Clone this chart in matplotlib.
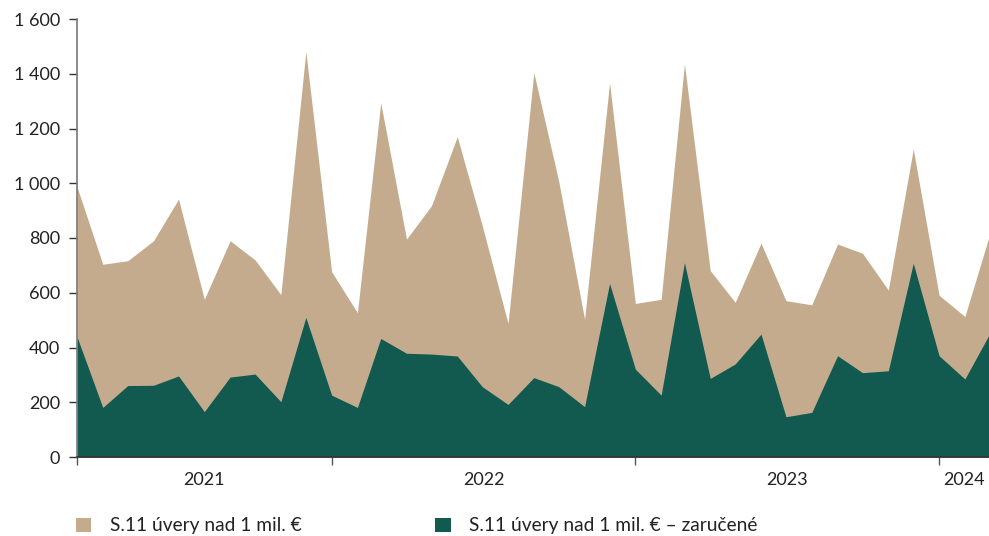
import pandas as pd
import matplotlib.pyplot as plt
import matplotlib.ticker as mticker
from matplotlib.patches import Patch

plt.rcParams['font.family'] = ['Lato', 'DejaVu Sans']

# Monthly data, March 2021 - March 2024
months = pd.date_range('2021-03-01', periods=37, freq='MS')
total = [987, 704, 717, 790, 942, 576, 790, 720, 593, 1481,
         677, 527, 1294, 796, 918, 1170, 845, 488, 1404, 1006,
         503, 1367, 561, 576, 1436, 681, 565, 781, 571, 556,
         778, 744, 610, 1125, 591, 513, 805]
guaranteed = [439, 181, 261, 262, 296, 166, 292, 303, 202, 510,
              226, 181, 433, 379, 376, 369, 257, 192, 290, 257,
              184, 634, 321, 226, 710, 287, 340, 449, 147, 163,
              370, 308, 315, 708, 370, 285, 446]
year_bounds = ['2022-01-01', '2023-01-01', '2024-01-01']
year_labels = ['2021', '2022', '2023', '2024']
label_total = 'S.11 úvery nad 1 mil. €'
label_guar = 'S.11 úvery nad 1 mil. € – zaručené'

tan = '#C5AB8E'
green = '#125A4F'

fig = plt.figure(figsize=(9.89, 5.36), dpi=100)
ax = fig.add_axes([77 / 989, 1 - 457 / 536, 1 - 77 / 989, (457 - 19) / 536])

ax.fill_between(months, 0, total, color=tan, linewidth=0)
ax.fill_between(months, 0, guaranteed, color=green, linewidth=0)

ax.set_xlim(months[0], months[-1])
ax.set_ylim(0, 1600)

# y axis
ax.yaxis.set_major_locator(mticker.MultipleLocator(200))
ax.yaxis.set_major_formatter(mticker.FuncFormatter(lambda v, p: '{:,.0f}'.format(v).replace(',', ' ')))
ax.tick_params(axis='y', direction='out', length=6, width=1, color='#333333',
               labelsize=13, labelcolor='#222222', pad=6)

# x axis: year boundaries as ticks, labels centred between them
bounds = [months[0]] + [pd.Timestamp(b) for b in year_bounds] + [months[-1]]
ax.set_xticks(bounds[:-1])
ax.set_xticklabels([])
mids = [bounds[i] + (bounds[i + 1] - bounds[i]) / 2 for i in range(len(bounds) - 1)]
ax.set_xticks(mids, minor=True)
ax.set_xticklabels(year_labels, minor=True)
ax.tick_params(axis='x', which='major', direction='out', length=6, width=1, color='#555555')
ax.tick_params(axis='x', which='minor', length=0, labelsize=13, labelcolor='#222222', pad=11)

for s in ['top', 'right']:
    ax.spines[s].set_visible(False)
ax.spines['left'].set_color('#777777')
ax.spines['left'].set_linewidth(1.2)
ax.spines['bottom'].set_color('#333333')
ax.spines['bottom'].set_linewidth(1.2)
ax.spines['bottom'].set_zorder(5)

handles = [Patch(facecolor=tan, edgecolor='none', label=label_total),
           Patch(facecolor=green, edgecolor='none', label=label_guar)]
fig.legend(handles=handles, loc='center left', bbox_to_anchor=(76 / 989, 1 - 526 / 536),
           ncol=2, frameon=False, fontsize=13.8, handlelength=0.8, handleheight=0.8,
           handletextpad=0.95, columnspacing=7.0, borderpad=0, borderaxespad=0,
           labelcolor='#222222')

plt.savefig('out.png', dpi=100)
